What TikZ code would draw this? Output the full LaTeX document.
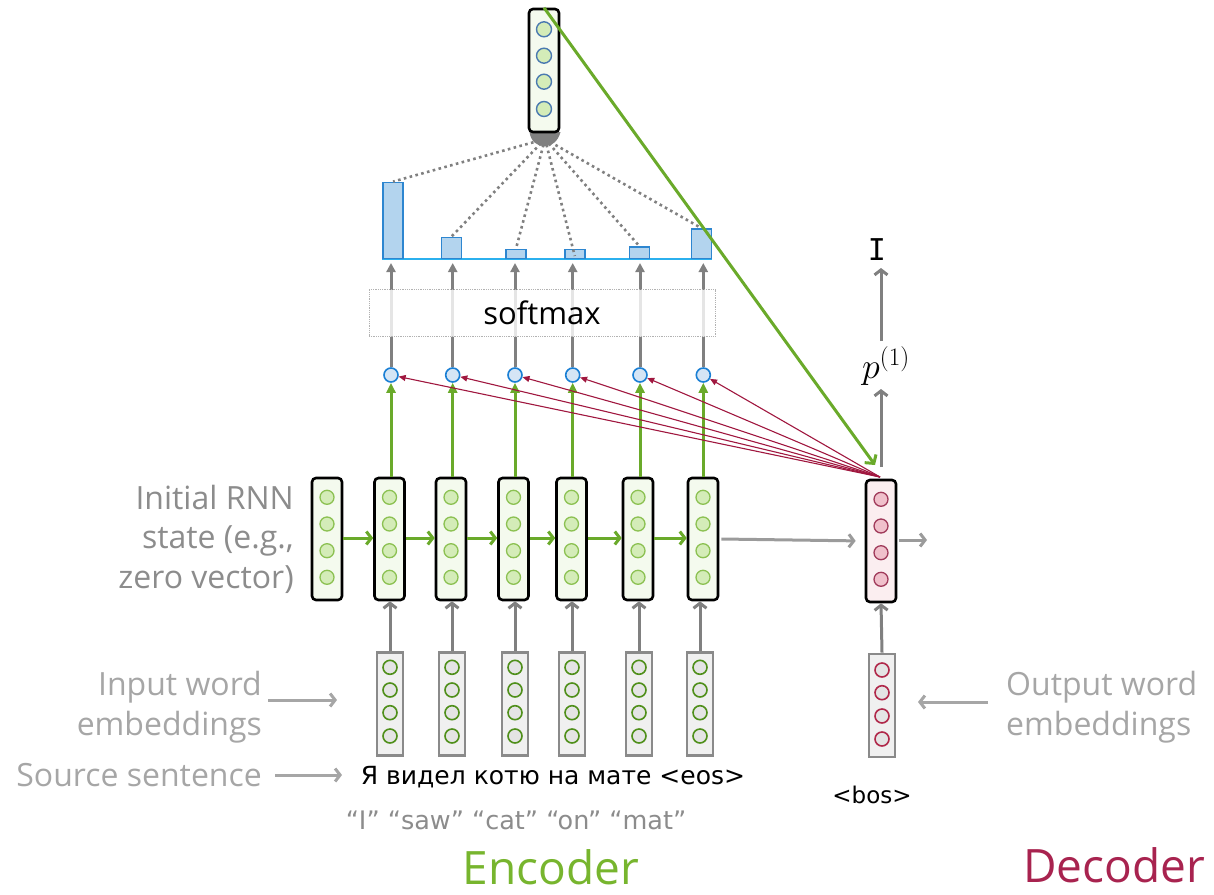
\RequirePackage{fix-cm}
\documentclass[tikz,border=0pt]{standalone}
\usepackage{fontspec}
\setmainfont{Open Sans}
\newfontfamily\comicf{DejaVu Sans}
\newfontfamily\monof{DejaVu Sans Mono}
\usetikzlibrary{arrows.meta}
\definecolor{grn}{HTML}{6AAA2A}
\definecolor{stfill}{HTML}{F4FAEE}
\definecolor{gcfill}{HTML}{D4ECB8}
\definecolor{gcstroke}{HTML}{8CC152}
\definecolor{embstroke}{HTML}{8A8A8A}
\definecolor{embfill}{HTML}{F0F0F0}
\definecolor{embcirc}{HTML}{4F8F1A}
\definecolor{embcfill}{HTML}{E4E4E4}
\definecolor{decred}{HTML}{A0173F}
\definecolor{decfill}{HTML}{FBEEF0}
\definecolor{deccfill}{HTML}{F0C0CB}
\definecolor{deccstroke}{HTML}{A03A5A}
\definecolor{decemb}{HTML}{B0284A}
\definecolor{ctxcirc}{HTML}{4A7AB0}
\definecolor{attfill}{HTML}{D5E5F5}
\definecolor{attdraw}{HTML}{1A7FD4}
\definecolor{barfill}{HTML}{B3D4EE}
\definecolor{bardraw}{HTML}{2D86D0}
\definecolor{baseblue}{HTML}{2BB0EE}
\definecolor{darkgray}{HTML}{808080}
\definecolor{lightlab}{HTML}{A6A6A6}
\definecolor{midlab}{HTML}{8C8C8C}
\definecolor{enccol}{HTML}{77B52E}
\definecolor{deccol}{HTML}{A8234F}
\begin{document}
\begin{tikzpicture}[x=1pt,y=-1pt,
  stbox/.style={draw=black, line width=2.6pt, rounded corners=4pt, fill=#1, minimum width=30pt, minimum height=122pt, inner sep=0pt},
  embbox/.style={draw=embstroke, line width=2.6pt, fill=embfill, minimum width=26pt, minimum height=103pt, inner sep=0pt},
  gc/.style={circle, draw=gcstroke, fill=gcfill, line width=1.3pt, minimum size=14pt, inner sep=0pt},
  ec/.style={circle, draw=#1, fill=embcfill, line width=1.6pt, minimum size=14pt, inner sep=0pt},
  attc/.style={circle, draw=attdraw, fill=attfill, line width=1.6pt, minimum size=14pt, inner sep=0pt},
  barbox/.style={draw=bardraw, fill=barfill, line width=1.4pt, minimum width=20pt, inner sep=0pt, anchor=south},
  grarrow/.style={draw=darkgray, line width=3pt, -{Triangle[length=9pt,width=9pt]}},
  gchev/.style={draw=#1, line width=3pt, -{Straight Barb[length=5pt,width=13pt]}},
  greenup/.style={draw=grn, line width=3pt, -{Triangle[length=10pt,width=9pt]}},
  redarr/.style={draw=decred, line width=1.1pt, -{Triangle[length=7pt,width=6pt]}},
  dotl/.style={draw=darkgray, line width=2.6pt, dash pattern=on 2.6pt off 3.4pt},
  lab/.style={font=\fontsize{32}{39.5}\selectfont, inner sep=0pt},
]
\useasboundingbox (0,0) rectangle (1214,894);

% ---------- encoder states ----------
\node[stbox=stfill] (s0) at (327,539) {};
\foreach \yy [count=\j] in {497.3,524,550.7,577.3}
  \node[gc] (s0-\j) at (327,\yy) {};
\foreach \x [count=\i] in {389.5,451,513.5,571.5,638,703} {
  \node[stbox=stfill] (s\i) at (\x,539) {};
  \foreach \yy [count=\j] in {497.3,524,550.7,577.3}
    \node[gc] (s\i-\j) at (\x,\yy) {};
}
% horizontal green arrows
\foreach \a/\b in {s0/s1,s1/s2,s2/s3,s3/s4,s4/s5,s5/s6}
  \draw[gchev=grn] (\a.east) ++(0,-1) -- ([yshift=1pt]\b.west);

% ---------- embeddings ----------
\foreach \x [count=\i] in {390,452,515,572,639,700} {
  \node[embbox] (e\i) at (\x,704) {};
  \foreach \yy [count=\j] in {667.3,690,712.7,736}
    \node[ec=embcirc] (e\i-\j) at (\x,\yy) {};
}
\foreach \i in {1,...,6}
  \draw[gchev=darkgray] (e\i.north) -- (e\i.north |- s\i.south);

% ---------- decoder ----------
\node[stbox=decfill] (dec) at (881,541) {};
\foreach \yy [count=\j] in {499.3,526,552.7,579.3}
  \node[ec=deccstroke, fill=deccfill, line width=1.3pt] (dec-\j) at (881,\yy) {};
\node[embbox] (de) at (882,705.5) {};
\foreach \yy [count=\j] in {670,692.7,716,739}
  \node[ec=decemb] (de-\j) at (882,\yy) {};
\draw[gchev=darkgray] (de.north) -- (dec.south);
\draw[gchev=lightlab!70!darkgray, shorten >=9pt] (s6.east) ++(2,0) -- (dec.west);
\coordinate (decout) at (927,540);
\draw[gchev=lightlab!70!darkgray] (dec.east) ++(2,-1) -- (decout);

\node[font=\fontsize{36}{40}\selectfont, inner sep=0pt] (p1) at (886,366) {$p^{(1)}$};
\node[font=\monof\fontsize{30}{36}\selectfont, inner sep=0pt] (out) at (877,250) {I};
\coordinate (pb) at (881,389);
\draw[gchev=darkgray] (881,467) -- (pb);
\coordinate (pt) at (881,341);
\coordinate (it) at (881,268);
\draw[gchev=darkgray] (pt) -- (it);

% ---------- attention scores ----------
\foreach \x [count=\i] in {391,452.7,515,572.7,640,703.3} {
  \node[attc] (a\i) at (\x,375) {};
  \coordinate (t\i) at (\x,263);
  \draw[grarrow] (a\i.north) -- (t\i);
  \draw[greenup] (s\i.north -| a\i) -- (a\i.south);
}
% softmax box (semi-transparent, over arrows)
\node[draw=gray!60, densely dotted, line width=0.8pt, fill=white, fill opacity=0.8, text opacity=1,
      minimum width=346pt, minimum height=47pt, inner sep=0pt,
      font=\fontsize{31}{36}\selectfont] (smax) at (542,313) {softmax};

% red arrows from decoder
\coordinate (dtop) at (880,477);
\foreach \i in {1,...,6}
  \draw[redarr] (dtop) -- (a\i);

% ---------- bars ----------
\draw[baseblue, line width=2pt] (382,259) -- (712,259);
\node[barbox, minimum height=76pt] (b1) at (393,259) {};
\node[barbox, minimum height=21pt] (b2) at (451.5,259) {};
\node[barbox, minimum height=9pt] (b3) at (516,259) {};
\node[barbox, minimum height=9pt] (b4) at (574.8,259) {};
\node[barbox, minimum height=11.5pt] (b5) at (639.3,259) {};
\node[barbox, minimum height=29.5pt] (b6) at (701.3,259) {};

% ---------- context vector ----------
\coordinate (hub) at (545,139);
\draw[dotl] (hub) -- (b1.north);
\draw[dotl] (hub) -- (b2.north);
\draw[dotl] (hub) -- (b3.north);
\draw[dotl] (hub) -- ([yshift=3pt]b4.south);
\draw[dotl] (hub) -- (b5.north);
\draw[dotl] (hub) -- (b6.north);
\fill[darkgray] (529.5,132) .. controls (532,151) and (556,151) .. (560.5,132) -- cycle;
\node[stbox=stfill, minimum height=123pt] (ctx) at (544,70.5) {};
\foreach \yy [count=\j] in {29.3,55.7,81.7,109}
  \node[gc, draw=ctxcirc, line width=1.4pt, minimum size=15pt] (ctx-\j) at (544,\yy) {};
\coordinate (gtip) at (875,465);
\draw[draw=grn, line width=3pt, -{Straight Barb[length=6pt,width=14pt]}] (ctx.north) -- (gtip);

% ---------- labels ----------
\node[lab, text=midlab, align=right, anchor=east] (linit) at (294,539)
  {Initial RNN\\state (e.g.,\\zero vector)};
\node[lab, text=lightlab, align=right, anchor=east] (lemb) at (262,707)
  {Input word\\embeddings};
\coordinate (lemba) at (268,700);
\coordinate (lembb) at (337,700);
\draw[gchev=lightlab] (lemba) -- (lembb);
\node[lab, text=lightlab, anchor=east] (lsrc) at (262,775) {Source sentence};
\coordinate (lsrca) at (275,775);
\coordinate (lsrcb) at (342,775);
\draw[gchev=lightlab] (lsrca) -- (lsrcb);
\node[lab, text=lightlab, align=left, anchor=west] (lout) at (1006,707)
  {Output word\\embeddings};
\coordinate (louta) at (988,702);
\coordinate (loutb) at (918,702);
\draw[gchev=lightlab] (louta) -- (loutb);

\node[font=\comicf\fontsize{25}{28}\selectfont, inner sep=0pt] (src) at (553,777)
  {Я видел котю на мате <eos>};
\node[font=\comicf\fontsize{25.5}{28}\selectfont, text=midlab, inner sep=0pt] (gloss) at (516,820)
  {“I” “saw” “cat” “on” “mat”};
\node[font=\comicf\fontsize{23}{26}\selectfont, inner sep=0pt] (bos) at (872,795) {<bos>};

\node[font=\fontsize{46}{52}\selectfont, text=enccol, inner sep=0pt] (enc) at (551,867) {Encoder};
\node[font=\fontsize{46}{52}\selectfont, text=deccol, inner sep=0pt] (decl) at (1114,865) {Decoder};
\end{tikzpicture}
\end{document}
